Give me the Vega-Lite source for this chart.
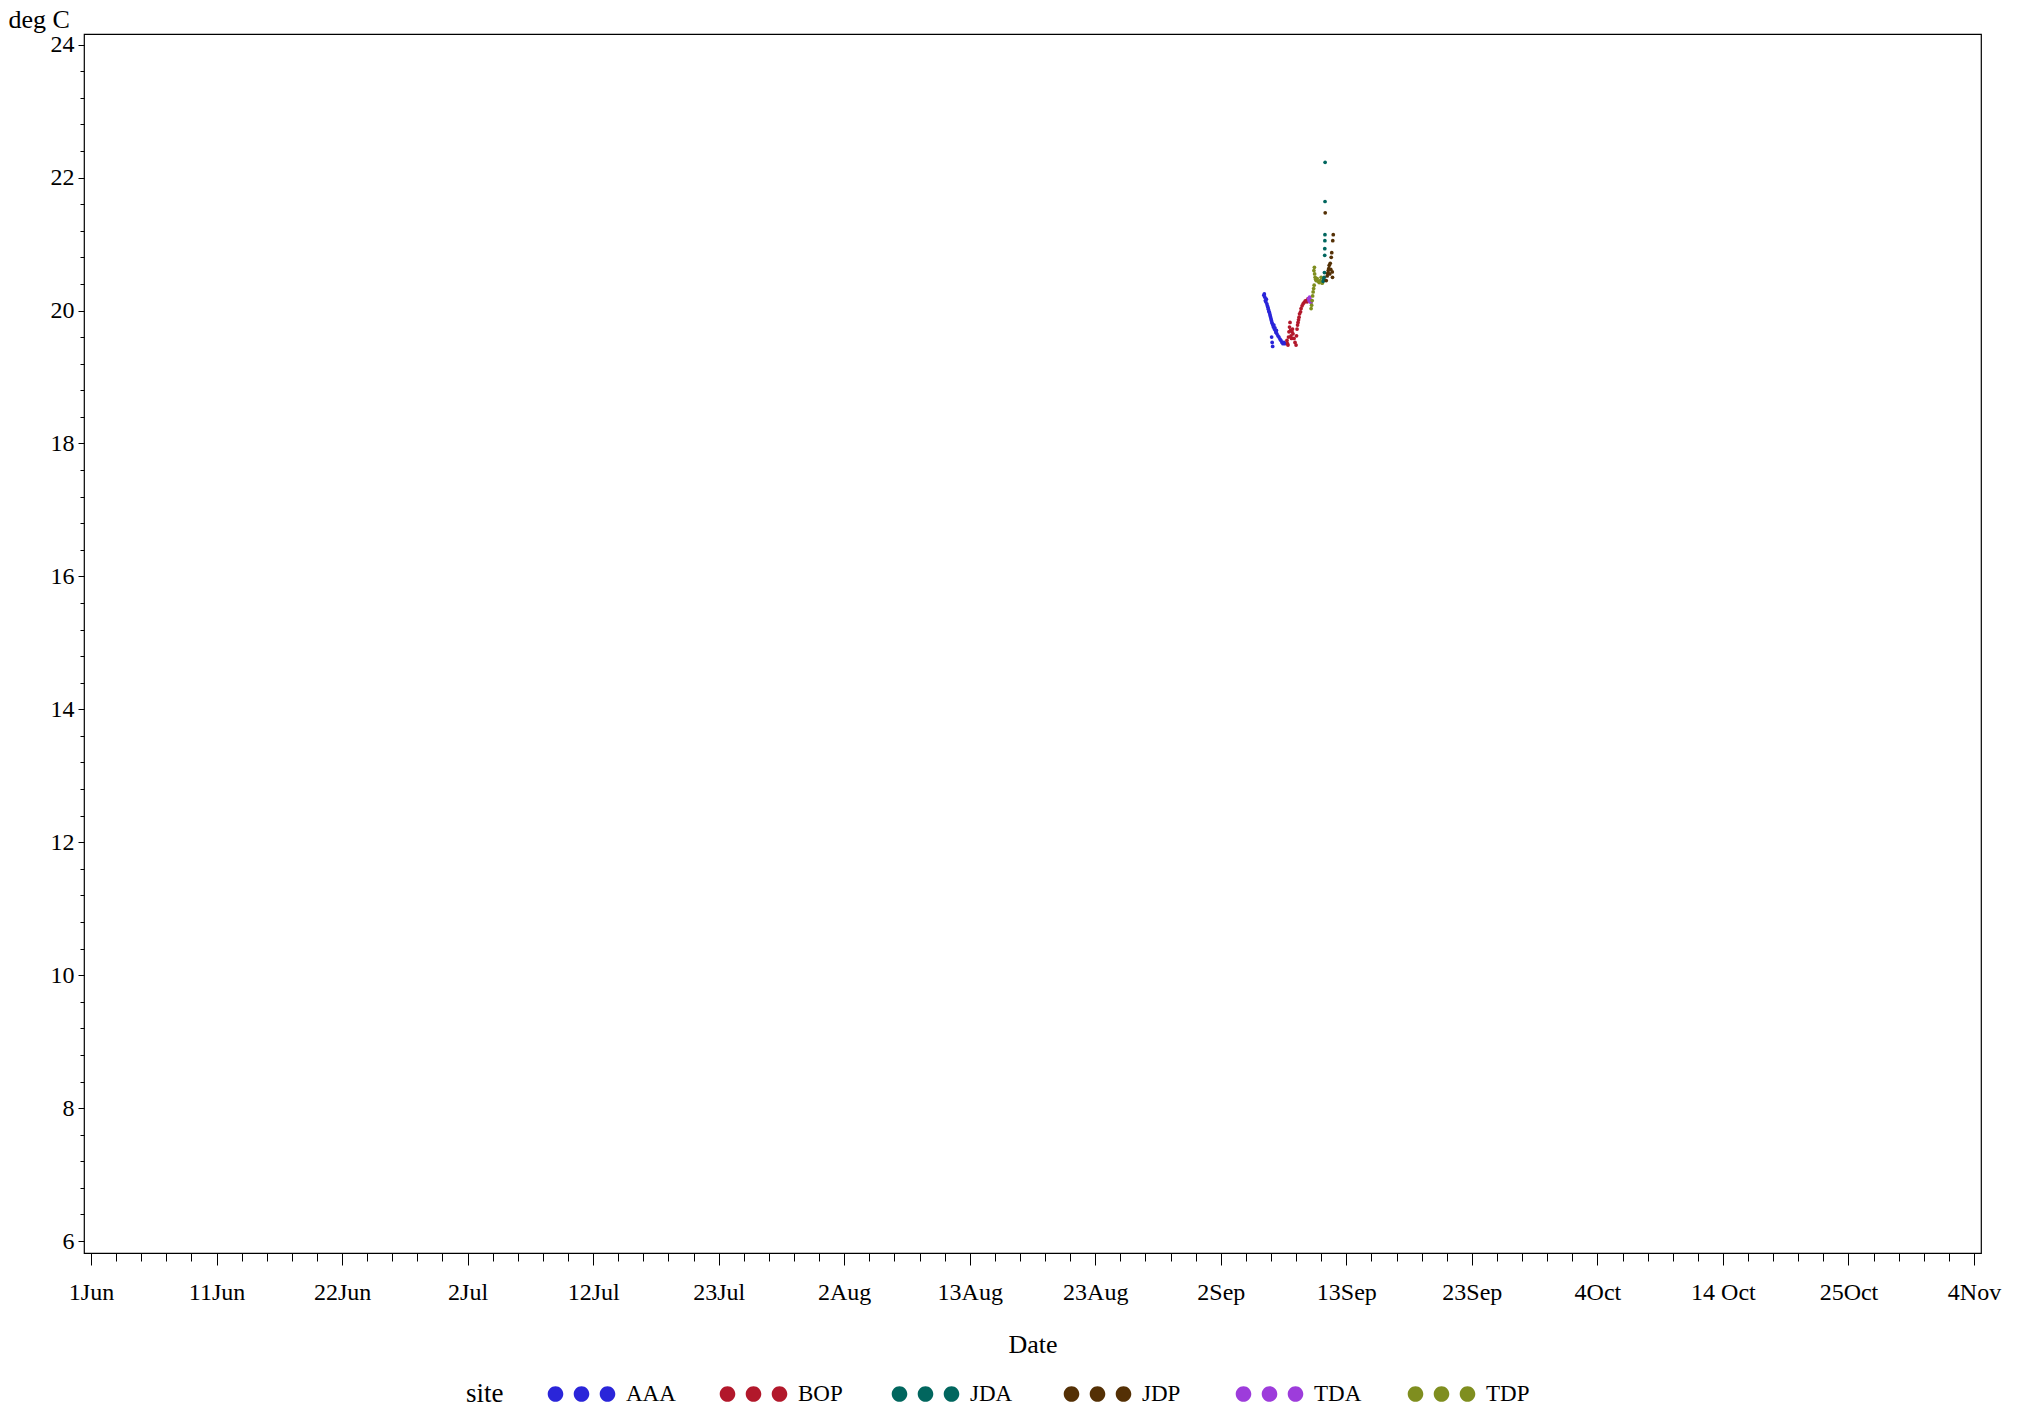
{
  "$schema": "https://vega.github.io/schema/vega-lite/v6.json",
  "width": 1897,
  "height": 1219,
  "autosize": {"type": "none"},
  "padding": {"left": 84, "top": 34, "right": 43, "bottom": 160},
  "background": "white",
  "config": {
    "view": {"stroke": "black", "strokeWidth": 1.2},
    "font": "Liberation Serif",
    "axis": {"labelFont": "Liberation Serif", "titleFont": "Liberation Serif", "labelColor": "black", "titleColor": "black", "tickColor": "black", "titleFontWeight": "normal", "grid": false, "domain": false},
    "legend": {"labelFont": "Liberation Serif", "titleFont": "Liberation Serif", "labelColor": "black", "titleColor": "black", "titleFontWeight": "normal"}
  },
  "data": {
    "values": [
      {"site": "AAA", "date": "2023-09-06T04:00:00Z", "temp": 20.23},
      {"site": "AAA", "date": "2023-09-06T05:00:00Z", "temp": 20.25},
      {"site": "AAA", "date": "2023-09-06T06:00:00Z", "temp": 20.2},
      {"site": "AAA", "date": "2023-09-06T07:00:00Z", "temp": 20.15},
      {"site": "AAA", "date": "2023-09-06T08:00:00Z", "temp": 20.13},
      {"site": "AAA", "date": "2023-09-06T09:00:00Z", "temp": 20.17},
      {"site": "AAA", "date": "2023-09-06T10:00:00Z", "temp": 20.1},
      {"site": "AAA", "date": "2023-09-06T11:00:00Z", "temp": 20.07},
      {"site": "AAA", "date": "2023-09-06T12:00:00Z", "temp": 20.05},
      {"site": "AAA", "date": "2023-09-06T13:00:00Z", "temp": 20.02},
      {"site": "AAA", "date": "2023-09-06T14:00:00Z", "temp": 19.99},
      {"site": "AAA", "date": "2023-09-06T15:00:00Z", "temp": 19.97},
      {"site": "AAA", "date": "2023-09-06T16:00:00Z", "temp": 19.94},
      {"site": "AAA", "date": "2023-09-06T17:00:00Z", "temp": 19.91},
      {"site": "AAA", "date": "2023-09-06T18:00:00Z", "temp": 19.88},
      {"site": "AAA", "date": "2023-09-06T19:00:00Z", "temp": 19.85},
      {"site": "AAA", "date": "2023-09-06T19:30:00Z", "temp": 19.6},
      {"site": "AAA", "date": "2023-09-06T20:00:00Z", "temp": 19.82},
      {"site": "AAA", "date": "2023-09-06T20:30:00Z", "temp": 19.52},
      {"site": "AAA", "date": "2023-09-06T21:00:00Z", "temp": 19.8},
      {"site": "AAA", "date": "2023-09-06T21:30:00Z", "temp": 19.46},
      {"site": "AAA", "date": "2023-09-06T22:00:00Z", "temp": 19.78},
      {"site": "AAA", "date": "2023-09-06T23:00:00Z", "temp": 19.75},
      {"site": "AAA", "date": "2023-09-07T00:00:00Z", "temp": 19.78},
      {"site": "AAA", "date": "2023-09-07T01:00:00Z", "temp": 19.72},
      {"site": "AAA", "date": "2023-09-07T02:00:00Z", "temp": 19.74},
      {"site": "AAA", "date": "2023-09-07T03:00:00Z", "temp": 19.7},
      {"site": "AAA", "date": "2023-09-07T04:00:00Z", "temp": 19.67},
      {"site": "AAA", "date": "2023-09-07T05:00:00Z", "temp": 19.7},
      {"site": "AAA", "date": "2023-09-07T06:00:00Z", "temp": 19.65},
      {"site": "AAA", "date": "2023-09-07T08:00:00Z", "temp": 19.62},
      {"site": "AAA", "date": "2023-09-07T10:00:00Z", "temp": 19.6},
      {"site": "AAA", "date": "2023-09-07T12:00:00Z", "temp": 19.57},
      {"site": "AAA", "date": "2023-09-07T14:00:00Z", "temp": 19.55},
      {"site": "AAA", "date": "2023-09-07T16:00:00Z", "temp": 19.52},
      {"site": "AAA", "date": "2023-09-07T18:00:00Z", "temp": 19.5},
      {"site": "AAA", "date": "2023-09-07T20:00:00Z", "temp": 19.52},
      {"site": "AAA", "date": "2023-09-07T22:00:00Z", "temp": 19.5},
      {"site": "BOP", "date": "2023-09-08T02:00:00Z", "temp": 19.55},
      {"site": "BOP", "date": "2023-09-08T03:00:00Z", "temp": 19.5},
      {"site": "BOP", "date": "2023-09-08T04:00:00Z", "temp": 19.48},
      {"site": "BOP", "date": "2023-09-08T05:00:00Z", "temp": 19.6},
      {"site": "BOP", "date": "2023-09-08T06:00:00Z", "temp": 19.68},
      {"site": "BOP", "date": "2023-09-08T07:00:00Z", "temp": 19.75},
      {"site": "BOP", "date": "2023-09-08T08:00:00Z", "temp": 19.82},
      {"site": "BOP", "date": "2023-09-08T09:00:00Z", "temp": 19.7},
      {"site": "BOP", "date": "2023-09-08T10:00:00Z", "temp": 19.62},
      {"site": "BOP", "date": "2023-09-08T11:00:00Z", "temp": 19.58},
      {"site": "BOP", "date": "2023-09-08T12:00:00Z", "temp": 19.68},
      {"site": "BOP", "date": "2023-09-08T13:00:00Z", "temp": 19.72},
      {"site": "BOP", "date": "2023-09-08T14:00:00Z", "temp": 19.65},
      {"site": "BOP", "date": "2023-09-08T16:00:00Z", "temp": 19.58},
      {"site": "BOP", "date": "2023-09-08T18:00:00Z", "temp": 19.52},
      {"site": "BOP", "date": "2023-09-08T20:00:00Z", "temp": 19.48},
      {"site": "BOP", "date": "2023-09-08T21:00:00Z", "temp": 19.62},
      {"site": "BOP", "date": "2023-09-08T22:00:00Z", "temp": 19.72},
      {"site": "BOP", "date": "2023-09-08T23:00:00Z", "temp": 19.78},
      {"site": "BOP", "date": "2023-09-09T00:00:00Z", "temp": 19.82},
      {"site": "BOP", "date": "2023-09-09T01:00:00Z", "temp": 19.86},
      {"site": "BOP", "date": "2023-09-09T02:00:00Z", "temp": 19.9},
      {"site": "BOP", "date": "2023-09-09T03:00:00Z", "temp": 19.95},
      {"site": "BOP", "date": "2023-09-09T05:00:00Z", "temp": 19.98},
      {"site": "BOP", "date": "2023-09-09T06:00:00Z", "temp": 20.03},
      {"site": "BOP", "date": "2023-09-09T08:00:00Z", "temp": 20.07},
      {"site": "BOP", "date": "2023-09-09T10:00:00Z", "temp": 20.1},
      {"site": "BOP", "date": "2023-09-09T12:00:00Z", "temp": 20.12},
      {"site": "BOP", "date": "2023-09-09T14:00:00Z", "temp": 20.14},
      {"site": "BOP", "date": "2023-09-09T16:00:00Z", "temp": 20.15},
      {"site": "BOP", "date": "2023-09-09T18:00:00Z", "temp": 20.13},
      {"site": "BOP", "date": "2023-09-09T20:00:00Z", "temp": 20.18},
      {"site": "TDA", "date": "2023-09-09T21:00:00Z", "temp": 20.18},
      {"site": "TDA", "date": "2023-09-09T22:00:00Z", "temp": 20.15},
      {"site": "TDA", "date": "2023-09-09T23:00:00Z", "temp": 20.2},
      {"site": "TDA", "date": "2023-09-10T00:00:00Z", "temp": 20.13},
      {"site": "TDA", "date": "2023-09-10T01:00:00Z", "temp": 20.16},
      {"site": "TDA", "date": "2023-09-10T02:00:00Z", "temp": 20.12},
      {"site": "TDP", "date": "2023-09-10T02:00:00Z", "temp": 20.03},
      {"site": "TDP", "date": "2023-09-10T03:00:00Z", "temp": 20.08},
      {"site": "TDP", "date": "2023-09-10T04:00:00Z", "temp": 20.15},
      {"site": "TDP", "date": "2023-09-10T05:00:00Z", "temp": 20.22},
      {"site": "TDP", "date": "2023-09-10T06:00:00Z", "temp": 20.28},
      {"site": "TDP", "date": "2023-09-10T07:00:00Z", "temp": 20.33},
      {"site": "TDP", "date": "2023-09-10T07:30:00Z", "temp": 20.6},
      {"site": "TDP", "date": "2023-09-10T08:00:00Z", "temp": 20.38},
      {"site": "TDP", "date": "2023-09-10T08:30:00Z", "temp": 20.65},
      {"site": "TDP", "date": "2023-09-10T09:00:00Z", "temp": 20.55},
      {"site": "TDP", "date": "2023-09-10T10:00:00Z", "temp": 20.5},
      {"site": "TDP", "date": "2023-09-10T11:00:00Z", "temp": 20.47},
      {"site": "TDP", "date": "2023-09-10T12:00:00Z", "temp": 20.45},
      {"site": "TDP", "date": "2023-09-10T14:00:00Z", "temp": 20.48},
      {"site": "TDP", "date": "2023-09-10T16:00:00Z", "temp": 20.44},
      {"site": "TDP", "date": "2023-09-10T18:00:00Z", "temp": 20.42},
      {"site": "TDP", "date": "2023-09-10T20:00:00Z", "temp": 20.45},
      {"site": "TDP", "date": "2023-09-10T22:00:00Z", "temp": 20.5},
      {"site": "TDP", "date": "2023-09-11T00:00:00Z", "temp": 20.41},
      {"site": "JDA", "date": "2023-09-11T02:00:00Z", "temp": 20.44},
      {"site": "JDA", "date": "2023-09-11T03:00:00Z", "temp": 20.47},
      {"site": "JDA", "date": "2023-09-11T04:00:00Z", "temp": 20.5},
      {"site": "JDA", "date": "2023-09-11T04:30:00Z", "temp": 20.57},
      {"site": "JDA", "date": "2023-09-11T05:00:00Z", "temp": 20.83},
      {"site": "JDA", "date": "2023-09-11T05:10:00Z", "temp": 20.93},
      {"site": "JDA", "date": "2023-09-11T05:20:00Z", "temp": 21.05},
      {"site": "JDA", "date": "2023-09-11T05:30:00Z", "temp": 21.14},
      {"site": "JDA", "date": "2023-09-11T05:40:00Z", "temp": 21.64},
      {"site": "JDA", "date": "2023-09-11T05:50:00Z", "temp": 22.23},
      {"site": "JDP", "date": "2023-09-11T06:00:00Z", "temp": 21.47},
      {"site": "JDP", "date": "2023-09-11T08:00:00Z", "temp": 20.45},
      {"site": "JDP", "date": "2023-09-11T10:00:00Z", "temp": 20.52},
      {"site": "JDP", "date": "2023-09-11T11:00:00Z", "temp": 20.56},
      {"site": "JDP", "date": "2023-09-11T12:00:00Z", "temp": 20.6},
      {"site": "JDP", "date": "2023-09-11T13:00:00Z", "temp": 20.63},
      {"site": "JDP", "date": "2023-09-11T14:00:00Z", "temp": 20.68},
      {"site": "JDP", "date": "2023-09-11T15:00:00Z", "temp": 20.55},
      {"site": "JDP", "date": "2023-09-11T16:00:00Z", "temp": 20.71},
      {"site": "JDP", "date": "2023-09-11T17:00:00Z", "temp": 20.62},
      {"site": "JDP", "date": "2023-09-11T18:00:00Z", "temp": 20.8},
      {"site": "JDP", "date": "2023-09-11T19:00:00Z", "temp": 20.87},
      {"site": "JDP", "date": "2023-09-11T20:00:00Z", "temp": 20.58},
      {"site": "JDP", "date": "2023-09-11T20:30:00Z", "temp": 20.5},
      {"site": "JDP", "date": "2023-09-11T21:00:00Z", "temp": 21.05},
      {"site": "JDP", "date": "2023-09-11T22:00:00Z", "temp": 21.14}
    ]
  },
  "mark": {"type": "point", "filled": true, "size": 14, "opacity": 1},
  "encoding": {
    "x": {
      "field": "date", "type": "temporal", "title": "Date",
      "scale": {"type": "utc", "domain": [1685527488000, 1699106112000]},
      "axis": {
        "values": [1685577600000, 1685757312000, 1685937024000, 1686116736000, 1686296448000,
                   1686476160000, 1686655872000, 1686835584000, 1687015296000, 1687195008000,
                   1687374720000, 1687554432000, 1687734144000, 1687913856000, 1688093568000,
                   1688273280000, 1688452992000, 1688632704000, 1688812416000, 1688992128000,
                   1689171840000, 1689351552000, 1689531264000, 1689710976000, 1689890688000,
                   1690070400000, 1690250112000, 1690429824000, 1690609536000, 1690789248000,
                   1690968960000, 1691148672000, 1691328384000, 1691508096000, 1691687808000,
                   1691867520000, 1692047232000, 1692226944000, 1692406656000, 1692586368000,
                   1692766080000, 1692945792000, 1693125504000, 1693305216000, 1693484928000,
                   1693664640000, 1693844352000, 1694024064000, 1694203776000, 1694383488000,
                   1694563200000, 1694742912000, 1694922624000, 1695102336000, 1695282048000,
                   1695461760000, 1695641472000, 1695821184000, 1696000896000, 1696180608000,
                   1696360320000, 1696540032000, 1696719744000, 1696899456000, 1697079168000,
                   1697258880000, 1697438592000, 1697618304000, 1697798016000, 1697977728000,
                   1698157440000, 1698337152000, 1698516864000, 1698696576000, 1698876288000,
                   1699056000000],
        "labelExpr": "(round((datum.value-1685577600000)/179712000)%5)!=0 ? '' : ['1Jun','11Jun','22Jun','2Jul','12Jul','23Jul','2Aug','13Aug','23Aug','2Sep','13Sep','23Sep','4Oct','14 Oct','25Oct','4Nov'][round((datum.value-1685577600000)/898560000)]",
        "tickSize": {"condition": {"test": "(round((datum.value-1685577600000)/179712000)%5)!=0", "value": 8}, "value": 12},
        "labelFontSize": 24,
        "labelPadding": 15,
        "labelOverlap": false,
        "labelFlush": false,
        "titleFontSize": 26,
        "titleY": 91,
        "titleBaseline": "middle"
      }
    },
    "y": {
      "field": "temp", "type": "quantitative", "title": "deg C",
      "scale": {"domain": [5.82, 24.16], "nice": false, "zero": false},
      "axis": {
        "values": [6, 6.4, 6.8, 7.2, 7.6, 8, 8.4, 8.8, 9.2, 9.6, 10, 10.4, 10.8, 11.2, 11.6, 12, 12.4, 12.8, 13.2, 13.6, 14, 14.4, 14.8, 15.2, 15.6, 16, 16.4, 16.8, 17.2, 17.6, 18, 18.4, 18.8, 19.2, 19.6, 20, 20.4, 20.8, 21.2, 21.6, 22, 22.4, 22.8, 23.2, 23.6, 24],
        "labelExpr": "abs(datum.value/2 - round(datum.value/2)) < 0.01 ? format(datum.value, 'd') : ''",
        "tickSize": {"condition": {"test": "abs(datum.value/2 - round(datum.value/2)) > 0.01", "value": 4}, "value": 6},
        "labelFontSize": 24,
        "labelPadding": 4,
        "labelOverlap": false,
        "labelFlush": false,
        "titleFontSize": 26,
        "titleAngle": 0,
        "titleAlign": "left",
        "titleBaseline": "alphabetic",
        "titleX": -76,
        "titleY": -7
      }
    },
    "color": {
      "field": "site", "type": "nominal", "title": "site",
      "scale": {"domain": ["AAA", "BOP", "JDA", "JDP", "TDA", "TDP"], "range": ["#2A25D9", "#B2182B", "#01665E", "#543005", "#9D3CDB", "#7F8E1F"]},
      "legend": {
        "orient": "none",
        "legendX": 382,
        "legendY": 1347,
        "direction": "horizontal",
        "titleOrient": "left",
        "titleFontSize": 27,
        "titlePadding": 45,
        "titleBaseline": "middle",
        "labelFontSize": 23,
        "labelOffset": 51,
        "columnPadding": 43,
        "gridAlign": "all",
        "symbolType": "M-1.1,0a0.6,0.6 0 1,0 1.2,0a0.6,0.6 0 1,0 -1.2,0M0.9,0a0.6,0.6 0 1,0 1.2,0a0.6,0.6 0 1,0 -1.2,0M2.9,0a0.6,0.6 0 1,0 1.2,0a0.6,0.6 0 1,0 -1.2,0",
        "symbolSize": 676,
        "symbolStrokeWidth": 0,
        "symbolOpacity": 1
      }
    }
  }
}
